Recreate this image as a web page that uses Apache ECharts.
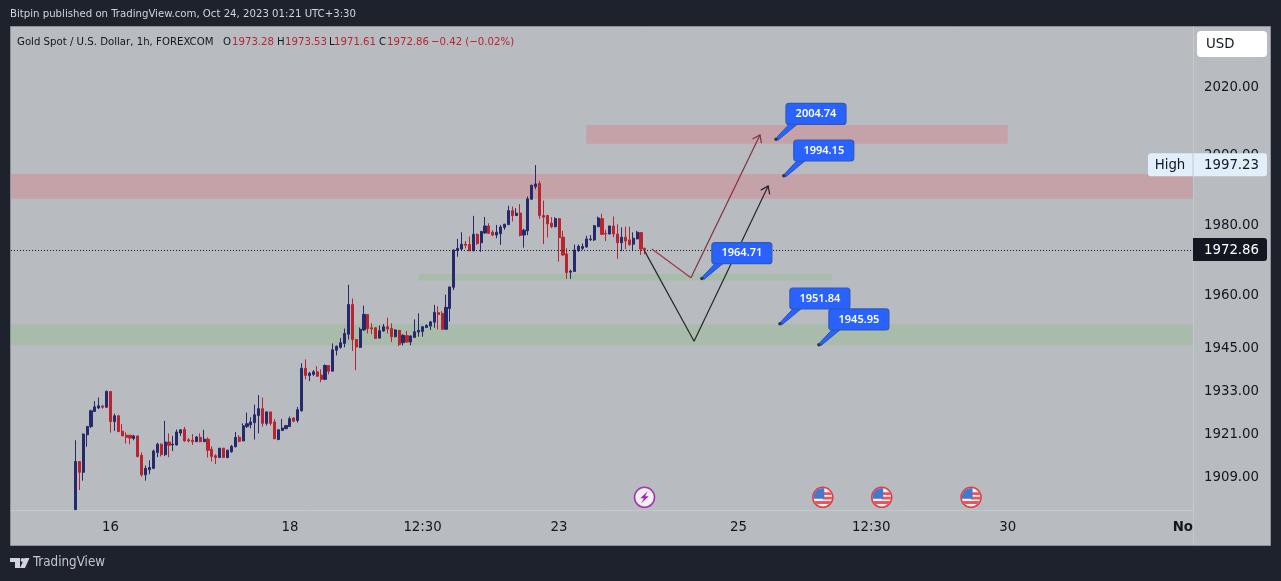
<!DOCTYPE html>
<html><head><meta charset="utf-8">
<style>html,body{margin:0;padding:0;background:#1e222d}#c{width:1281px;height:581px}</style>
<script src="https://cdn.jsdelivr.net/npm/echarts@6/dist/echarts.min.js"></script>
</head><body><div id="c"></div>
<script>
const opens = [1900,1913.3,1910.3,1920.7,1923.0,1927.2,1928.2,1928.7,1928.4,1932.8,
1924.4,1926.0,1921.7,1920.6,1920.6,1919.7,1920.4,1915.0,1909.6,1911.0,
1911.4,1915.8,1918.1,1915.2,1918.7,1917.9,1917.9,1921.2,1922.2,1919.3,
1919.2,1918.8,1920.0,1918.8,1919.5,1916.7,1914.9,1914.4,1917.0,1914.4,
1916.0,1917.4,1920.0,1919.0,1923.0,1923.5,1924.1,1926.1,1928.0,1923.9,
1927.1,1924.3,1919.4,1921.9,1922.4,1923.0,1925.4,1924.7,1927.4,1939.3,
1937.3,1937.6,1938.3,1937.4,1936.2,1940.1,1938.5,1944.4,1945.2,1946.3,
1948.9,1957.3,1947.4,1945.2,1950.1,1954.5,1950.7,1950.7,1947.8,1949.8,
1951.0,1950.5,1948.2,1950.0,1946.5,1948.5,1946.7,1948.0,1949.5,1949.7,
1950.8,1951.2,1952.3,1955.0,1954.8,1950.3,1956.2,1962.2,1972.7,1973.1,
1974.5,1974.4,1972.6,1977.3,1974.9,1977.7,1979.7,1977.9,1977.1,1977.5,
1979.3,1980.1,1984.1,1982.7,1983.4,1977.1,1978.3,1987.4,1991.0,1991.9,
1982.7,1982.7,1980.5,1979.5,1981.8,1976.5,1971.7,1966.5,1966.7,1972.6,
1973.3,1973.7,1975.8,1975.7,1979.5,1981.8,1977.6,1977.4,1979.7,1977.4,
1974.9,1976.5,1975.7,1974.5,1976.0,1977.8,1973.28];
const closes = [1913.3,1910.3,1920.9,1923.0,1927.4,1928.5,1928.8,1928.4,1932.8,1924.4,
1926.0,1921.6,1920.4,1920.0,1919.8,1920.4,1914.7,1909.6,1911.4,1911.6,
1916.2,1918.1,1915.2,1918.7,1917.8,1918.1,1921.5,1922.1,1919.0,1919.0,
1918.8,1920.1,1918.8,1919.5,1916.4,1914.7,1914.4,1917.0,1914.4,1916.4,
1917.5,1920.0,1918.9,1923.2,1923.8,1924.3,1926.3,1928.0,1923.9,1927.1,
1923.9,1919.6,1922.1,1922.6,1923.3,1925.2,1924.5,1927.7,1939.3,1937.3,
1937.9,1938.3,1937.1,1936.2,1940.1,1938.5,1944.5,1945.5,1946.5,1949.1,
1957.3,1947.4,1945.3,1950.3,1954.5,1950.5,1950.4,1947.7,1949.9,1951.0,
1950.4,1948.2,1950.1,1946.0,1948.6,1946.7,1948.4,1949.6,1950.0,1951.0,
1951.4,1952.4,1955.1,1954.5,1950.3,1956.5,1962.3,1972.8,1973.3,1974.5,
1974.2,1972.6,1977.3,1974.7,1978.1,1979.7,1977.6,1977.1,1977.9,1979.4,
1980.2,1984.1,1982.7,1983.4,1977.0,1978.5,1987.5,1991.4,1991.8,1982.7,
1982.2,1980.3,1979.5,1981.8,1976.4,1971.4,1966.4,1966.8,1972.8,1973.9,
1973.8,1976.0,1976.0,1979.8,1982.0,1977.3,1977.4,1979.7,1977.4,1974.9,
1976.5,1975.4,1974.4,1976.2,1977.9,1973.1,1972.86];
const lows = [1900,1905.4,1908.0,1917.4,1922.6,1927.2,1927.9,1928.0,1928.4,1921.3,
1921.8,1921.5,1920.4,1918.3,1918.1,1919.2,1914.4,1909.1,1908.0,1909.8,
1911.2,1914.5,1914.7,1914.8,1914.5,1916.2,1917.7,1920.4,1918.8,1918.6,
1917.9,1918.7,1918.6,1918.7,1914.4,1913.3,1912.6,1914.4,1914.4,1914.2,
1915.7,1917.2,1918.6,1919.0,1922.6,1922.5,1919.4,1921.1,1923.0,1923.3,
1923.3,1919.5,1919.2,1921.8,1922.3,1922.9,1924.2,1924.1,1927.2,1936.2,
1935.7,1937.1,1936.9,1935.4,1936.0,1937.6,1938.5,1942.9,1944.8,1945.2,
1947.4,1944.2,1938.8,1945.0,1949.9,1949.1,1948.9,1947.7,1947.7,1949.6,
1949.1,1946.7,1948.0,1945.5,1945.7,1946.5,1945.8,1947.9,1948.2,1948.2,
1950.7,1950.1,1950.7,1950.3,1950.1,1950.3,1952.5,1961.4,1970.9,1972.8,
1973.3,1972.5,1972.5,1974.3,1972.3,1977.5,1977.4,1976.8,1976.2,1974.3,
1978.6,1980.0,1981.0,1982.6,1976.7,1973.5,1977.1,1987.2,1990.3,1981.8,
1974.5,1976.4,1979.1,1979.3,1969.5,1971.2,1964.6,1964.6,1966.7,1972.3,
1972.8,1973.5,1975.4,1975.4,1979.4,1977.1,1975.4,1977.3,1976.5,1970.3,
1972.5,1973.1,1974.0,1972.5,1975.9,1971.4,1971.61];
const highs = [1919.2,1913.3,1921.1,1923.2,1927.7,1930.1,1931.1,1929.1,1933.1,1932.8,
1926.6,1926.3,1923.7,1921.4,1920.6,1920.7,1920.4,1915.8,1912.2,1913.6,
1916.6,1918.5,1918.3,1924.6,1921.1,1920.4,1922.2,1922.2,1922.9,1919.8,
1920.9,1920.4,1921.1,1922.1,1920.0,1917.5,1915.3,1917.0,1917.0,1916.6,
1917.9,1921.5,1920.6,1923.9,1926.9,1925.6,1929.1,1931.8,1931.1,1927.2,
1927.1,1925.1,1922.2,1925.1,1923.4,1925.8,1925.6,1928.5,1940.7,1941.8,
1938.3,1938.8,1939.9,1939.0,1940.4,1940.1,1946.3,1945.7,1947.8,1950.5,
1962.9,1959.0,1947.6,1950.8,1957.0,1954.5,1952.0,1950.9,1951.4,1951.8,
1953.6,1952.0,1950.3,1950.1,1948.9,1949.8,1948.6,1953.1,1954.8,1951.2,
1951.7,1952.6,1957.2,1956.8,1955.4,1960.1,1962.3,1973.0,1976.0,1977.9,
1975.4,1976.7,1982.6,1977.6,1978.3,1982.3,1980.5,1978.5,1980.0,1980.0,
1980.3,1985.5,1985.3,1984.8,1986.0,1978.9,1988.2,1991.6,1997.23,1992.7,
1987.0,1982.9,1982.2,1982.2,1982.0,1978.3,1973.3,1967.2,1974.4,1974.4,
1974.7,1976.9,1977.1,1980.0,1982.4,1983.2,1978.6,1979.8,1982.4,1980.2,
1979.3,1979.5,1979.5,1977.9,1978.3,1977.9,1973.53];

const slotCount = 303;
const firstCandleSlot = 16;
const timeTickSlots = [25,71,105,140,186,220,255,301];
const timeTickLabels = ['16','18','12:30','23','25','12:30','30','Nov'];
const priceTicks = [2020,2000,1980,1960,1945,1933,1921,1909];
const priceMin = 1899.9, priceMax = 2037.6;
const lastPrice = 1972.86, highPrice = 1997.23;

const redZoneA = [147,255,2008.9,2003.4];
const redZoneB = [1994.7,1987.5];
const greenZoneA = [104,210,1966.0,1964.1];
const greenZoneB = [1951.7,1945.8];

const redPathSlots = [163.8,173.8,191.5];
const redPathPrices = [1973.1,1964.9,2006.0];
const blackPathSlots = [161.8,174.6,193.6];
const blackPathPrices = [1972.8,1946.9,1991.2];

const calloutSlots = [195.6,197.6,176.6,196.6,206.6];
const calloutPrices = [2004.74,1994.15,1964.71,1951.84,1945.95];

const eventSlots = [161.9,207.6,222.7,245.6];
const eventKinds = ['bolt','us','us','us'];
const eventPrice = 1903.4;

const UP='#262a6b', DOWN='#b8252f', INK='#131722';
const FONT='"DejaVu Sans Condensed","Noto Sans",sans-serif';

const categories = Array.from({length:slotCount},(_,i)=>{
  const k = timeTickSlots.indexOf(i); return k>=0 ? timeTickLabels[k] : '';
});
const candleData = opens.map((o,i)=>[i+firstCandleSlot,o,closes[i],lows[i],highs[i]]);

function segments(xs,ys,colors){
  const out=[];
  for(let i=0;i<xs.length-1;i++) out.push([xs[i],ys[i],xs[i+1],ys[i+1],colors[i],i===xs.length-2?1:0]);
  return out;
}
function renderSegment(params,api){
  const a=api.coord([api.value(0),api.value(1)]), b=api.coord([api.value(2),api.value(3)]);
  const color=api.value(4), kids=[{type:'line',shape:{x1:a[0],y1:a[1],x2:b[0],y2:b[1]},style:{stroke:color,lineWidth:1.2}}];
  if(api.value(5)){
    const ang=Math.atan2(b[1]-a[1],b[0]-a[0]), L=8.5, s=0.62;
    const p=t=>[b[0]-L*Math.cos(ang+t),b[1]-L*Math.sin(ang+t)];
    kids.push({type:'polyline',shape:{points:[p(s),b,p(-s)]},style:{stroke:color,fill:'none',lineWidth:1.2}});
  }
  return {type:'group',children:kids};
}
function renderCallout(params,api){
  const p=api.coord([api.value(0),api.value(1)]), x=p[0], y=p[1];
  const bx=x+10, by=y-35.8, bw=60, bh=21, text=String(api.value(1).toFixed(2));
  return {type:'group',children:[
    {type:'polygon',shape:{points:[[x+1,y-2],[bx+3,by+bh],[bx+11,by+bh],[x+2,y+1]]},style:{fill:'#2962ff',stroke:'#2a55b0',lineWidth:1}},
    {type:'rect',shape:{x:bx,y:by,width:bw,height:bh,r:3},style:{fill:'#2962ff',stroke:'#2f5bb5',lineWidth:1.2}},
    {type:'text',style:{x:bx+bw/2,y:by+bh/2,text:text,fill:'#fff',align:'center',verticalAlign:'middle',font:'600 11px "Noto Sans",sans-serif'}},
    {type:'circle',shape:{cx:x,cy:y,r:1.7},style:{fill:'#2a3350'}}
  ]};
}
function renderEvent(params,api){
  const p=api.coord([api.value(0),api.value(1)]), x=p[0], y=p[1], kind=eventKinds[params.dataIndex];
  if(kind==='bolt'){
    return {type:'group',children:[
      {type:'circle',shape:{cx:x,cy:y,r:10},style:{fill:'#f5eef6',stroke:'#a236b4',lineWidth:1.6}},
      {type:'polygon',shape:{points:[[x+3.2,y-6],[x-4.2,y+1],[x-0.6,y+1],[x-3.2,y+6],[x+4.2,y-1],[x+0.6,y-1]]},style:{fill:'#9c27b0'}}
    ]};
  }
  const clip={type:'circle',shape:{cx:x,cy:y,r:9.2}};
  const rect=(a,b,w,h,c)=>({type:'rect',shape:{x:x+a,y:y+b,width:w,height:h},style:{fill:c},clipPath:clip});
  return {type:'group',children:[
    {type:'circle',shape:{cx:x,cy:y,r:10},style:{fill:'#f2f0f0',stroke:'#df3f46',lineWidth:1.6}},
    rect(0,-5,10,2.8,'#e8575c'),
    rect(0,-0.6,10,2.8,'#e8575c'),
    rect(-10,3.6,20,3,'#e8575c'),
    rect(-10,-10,11.5,11.5,'#4478cc')
  ]};
}
function renderTag(params,api){
  const y=api.coord([0,api.value(0)])[1]-0.4, g=params.coordSys, ax=g.x+g.width;
  const isHigh=api.value(2)===1;
  const bg=isHigh?'#e3eefb':'#131722', fg=isHigh?'#131722':'#ffffff';
  const kids=[{type:'rect',shape:{x:ax,y:y-11.5,width:74,height:23,r:[0,3,3,0]},style:{fill:bg}},
    {type:'text',style:{x:ax+11,y:y+0.5,text:api.value(0).toFixed(2),fill:fg,align:'left',verticalAlign:'middle',font:'14.8px '+FONT}}];
  if(isHigh) kids.push(
    {type:'rect',shape:{x:ax-45,y:y-11.5,width:45,height:23,r:[3,0,0,3]},style:{fill:bg}},
    {type:'rect',shape:{x:ax-0.5,y:y-11.5,width:1,height:23},style:{fill:'#c5c8cc'}},
    {type:'text',style:{x:ax-23,y:y+0.5,text:'High',fill:fg,align:'center',verticalAlign:'middle',font:'14.8px '+FONT}});
  return {type:'group',children:kids};
}

const legendPieces=[
 ['Gold Spot / U.S. Dollar, 1h, FOREXCOM',17,INK],['O',223,INK],['1973.28',232,DOWN],['H',277,INK],['1973.53',285,DOWN],
 ['L',329,INK],['1971.61',334,DOWN],['C',379,INK],['1972.86',387,DOWN],['\u22120.42 (\u22120.02%)',431,DOWN]];

const option={
  animation:false,
  backgroundColor:'#1e222d',
  grid:{left:11,right:88,top:27,bottom:71,show:false,containLabel:false},
  xAxis:[
    {type:'category',data:categories,boundaryGap:true,
     axisLine:{show:true,lineStyle:{color:'#c5c8cc',width:1}},axisTick:{show:false},splitLine:{show:false},
     axisLabel:{show:true,interval:(i,v)=>v!=='',margin:10,color:INK,fontSize:14.8,fontFamily:FONT,hideOverlap:false,
       formatter:v=>v==='Nov'?'{b|Nov}':v,rich:{b:{fontWeight:'bold',fontSize:14.8,fontFamily:FONT,color:INK}}}},
    {type:'value',min:-0.5,max:slotCount-0.5,show:false,splitLine:{show:false}}
  ],
  yAxis:{type:'log',logBase:Math.E,min:priceMin,max:priceMax,position:'right',
    axisLine:{show:true,onZero:false,lineStyle:{color:'#c5c8cc',width:1}},axisTick:{show:false},splitLine:{show:false},minorTick:{show:false},
    axisLabel:{customValues:priceTicks,formatter:v=>Number(v).toFixed(2),margin:11,color:INK,fontSize:14.8,fontFamily:FONT,align:'left'}},
  graphic:[
    {type:'rect',z:-10,shape:{x:10.5,y:26.5,width:1260,height:519},style:{fill:'#b8bbc0',stroke:'#8e919a',lineWidth:1}},
    {type:'text',z:50,style:{x:10,y:14,text:'Bitpin published on TradingView.com, Oct 24, 2023 01:21 UTC+3:30',fill:'#d1d4dc',verticalAlign:'middle',font:'11.3px '+FONT}},
    ...legendPieces.map(p=>({type:'text',z:50,style:{x:p[1],y:42,text:p[0],fill:p[2],verticalAlign:'middle',font:'11.3px '+FONT}})),
    {type:'rect',z:60,shape:{x:1193.5,y:511,width:76,height:33},style:{fill:'#b8bbc0'}},
    {type:'rect',z:61,shape:{x:1193,y:510,width:1,height:35},style:{fill:'#c5c8cc'}},
    {type:'rect',z:60,shape:{x:1197,y:31,width:70,height:26,r:4},style:{fill:'#ffffff'}},
    {type:'text',z:61,style:{x:1206,y:44,text:'USD',fill:INK,verticalAlign:'middle',font:'14.8px '+FONT}},
    {type:'polygon',z:50,shape:{points:[[10,558],[20,558],[20,568],[15,568],[15,562],[10,562]]},style:{fill:'#d1d4dc'}},
    {type:'circle',z:50,shape:{cx:22.5,cy:560,r:1.9},style:{fill:'#d1d4dc'}},
    {type:'polygon',z:50,shape:{points:[[24.5,558],[29.5,558],[25,568],[20,568]]},style:{fill:'#d1d4dc'}},
    {type:'text',z:50,style:{x:33,y:563,text:'TradingView',fill:'#c3c6ce',verticalAlign:'middle',font:'13.3px '+FONT}}
  ],
  series:[
    {type:'candlestick',xAxisIndex:0,yAxisIndex:0,barWidth:2.6,data:candleData,encode:{x:0,y:[1,2,3,4]},
     itemStyle:{color:UP,color0:DOWN,borderColor:UP,borderColor0:DOWN,borderWidth:1},
     markArea:{silent:true,label:{show:false},data:[
       [{xAxis:redZoneA[0],yAxis:redZoneA[2],itemStyle:{color:'#c4a2a8'}},{xAxis:redZoneA[1],yAxis:redZoneA[3]}],
       [{yAxis:redZoneB[0],itemStyle:{color:'#c4a2a8'}},{yAxis:redZoneB[1]}],
       [{xAxis:greenZoneA[0],yAxis:greenZoneA[2],itemStyle:{color:'#a9bcab'}},{xAxis:greenZoneA[1],yAxis:greenZoneA[3]}],
       [{yAxis:greenZoneB[0],itemStyle:{color:'#a9bcab'}},{yAxis:greenZoneB[1]}]
     ]},
     markLine:{silent:true,symbol:'none',label:{show:false},lineStyle:{color:INK,type:[1,2],width:1},data:[{yAxis:lastPrice}]}},
    {type:'custom',xAxisIndex:1,yAxisIndex:0,z:5,renderItem:renderSegment,encode:{x:[0,2],y:[1,3]},
     data:segments(redPathSlots,redPathPrices,['#9a3a42','#80333a'])},
    {type:'custom',xAxisIndex:1,yAxisIndex:0,z:6,renderItem:renderSegment,encode:{x:[0,2],y:[1,3]},
     data:segments(blackPathSlots,blackPathPrices,['#23262e','#23262e'])},
    {type:'custom',xAxisIndex:1,yAxisIndex:0,z:7,renderItem:renderCallout,encode:{x:0,y:1},
     data:calloutSlots.map((s,i)=>[s,calloutPrices[i]])},
    {type:'custom',xAxisIndex:1,yAxisIndex:0,z:8,renderItem:renderEvent,encode:{x:0,y:1},
     data:eventSlots.map(s=>[s,eventPrice])},
    {type:'custom',xAxisIndex:1,yAxisIndex:0,z:40,clip:false,renderItem:renderTag,encode:{y:0},
     data:[[highPrice,0,1],[lastPrice,0,0]]}
  ]
};
const chart=echarts.init(document.getElementById('c'),null,{renderer:'canvas',width:1281,height:581});
chart.setOption(option);
</script></body></html>
